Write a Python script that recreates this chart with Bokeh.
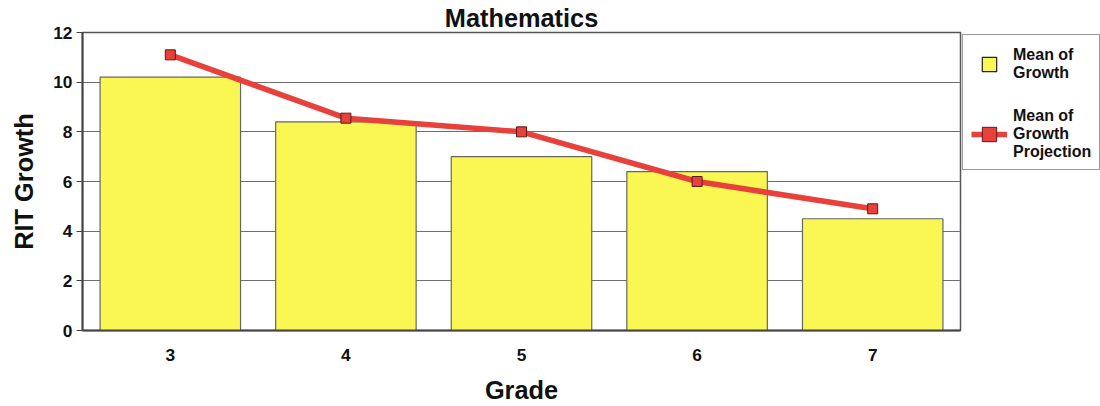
from bokeh.plotting import figure
from bokeh.models import Legend, LegendItem, FactorRange, ColumnDataSource
from bokeh.embed import file_html
from bokeh.resources import INLINE

grades = ["3", "4", "5", "6", "7"]
mean_growth = [10.2, 8.4, 7.0, 6.4, 4.5]
mean_projection = [11.1, 8.55, 8.0, 6.0, 4.9]

FONT = "Liberation Sans"

src = ColumnDataSource(dict(g=grades, growth=mean_growth, proj=mean_projection))

p = figure(x_range=FactorRange(*grades, range_padding=0), y_range=(0, 12),
           frame_width=878, frame_height=298, output_backend="svg",
           toolbar_location=None, min_border_left=82, min_border_top=24,
           min_border_bottom=60, min_border_right=4)

p.title.text = "Mathematics"
p.title.align = "center"
p.title.text_font = FONT
p.title.text_font_size = "19pt"
p.title.text_font_style = "bold"
p.title.text_color = "#111111"
p.title.offset = 0
p.title.standoff = 2

bars = p.vbar(x="g", top="growth", width=0.8, source=src,
              fill_color="#fbf752", line_color="#666666", line_width=1.2)
ln = p.line(x="g", y="proj", source=src, line_color="#e8403a", line_width=5.5)
mk = p.scatter(x="g", y="proj", source=src, marker="square", size=10,
               fill_color="#e8403a", line_color="#5a1a18", line_width=1)
# legend-only swatch for the bars (kept below the visible y range)
sw = p.scatter(x=[grades[0]], y=[-100], marker="square", size=10,
               fill_color="#fbf752", line_color="#222222", line_width=1.2)

p.yaxis.ticker = [0, 2, 4, 6, 8, 10, 12]
for ax in (p.xaxis, p.yaxis):
    ax.axis_label_text_font = FONT
    ax.axis_label_text_font_style = "bold"
    ax.axis_label_text_font_size = "19pt"
    ax.major_label_text_font = FONT
    ax.major_label_text_font_style = "bold"
    ax.major_label_text_font_size = "13pt"
    ax.major_label_text_color = "#111111"
    ax.axis_label_text_color = "#111111"
    ax.axis_line_color = "#444444"
    ax.axis_line_width = 2
    ax.minor_tick_line_color = None
p.xaxis.axis_label = "Grade"
p.yaxis.axis_label = "RIT Growth"
p.xaxis.major_tick_line_color = None
p.xaxis.major_label_standoff = 12
p.xaxis.axis_label_standoff = 12
p.yaxis.major_tick_in = 0
p.yaxis.major_tick_out = 6
p.yaxis.major_tick_line_color = "#444444"
p.yaxis.major_label_standoff = 4
p.yaxis.axis_label_standoff = 12

p.xgrid.grid_line_color = None
p.ygrid.grid_line_color = "#6e6e6e"
p.ygrid.grid_line_width = 1
p.outline_line_color = "#555555"
p.outline_line_width = 1.5

legend = Legend(items=[
    LegendItem(label="Mean of\nGrowth", renderers=[sw]),
    LegendItem(label="Mean of\nGrowth\nProjection", renderers=[ln, mk]),
], location="top_left")
legend.label_text_font = FONT
legend.label_text_font_style = "bold"
legend.label_text_font_size = "12pt"
legend.label_text_line_height = 1.4
legend.label_text_color = "#111111"
legend.border_line_color = "#333333"
legend.border_line_width = 1.5
legend.glyph_width = 36
legend.glyph_height = 42
legend.label_standoff = 6
legend.spacing = 22
legend.padding = 8
legend.margin = 2
p.add_layout(legend, "right")

open("out.html", "w").write(file_html(p, INLINE))
